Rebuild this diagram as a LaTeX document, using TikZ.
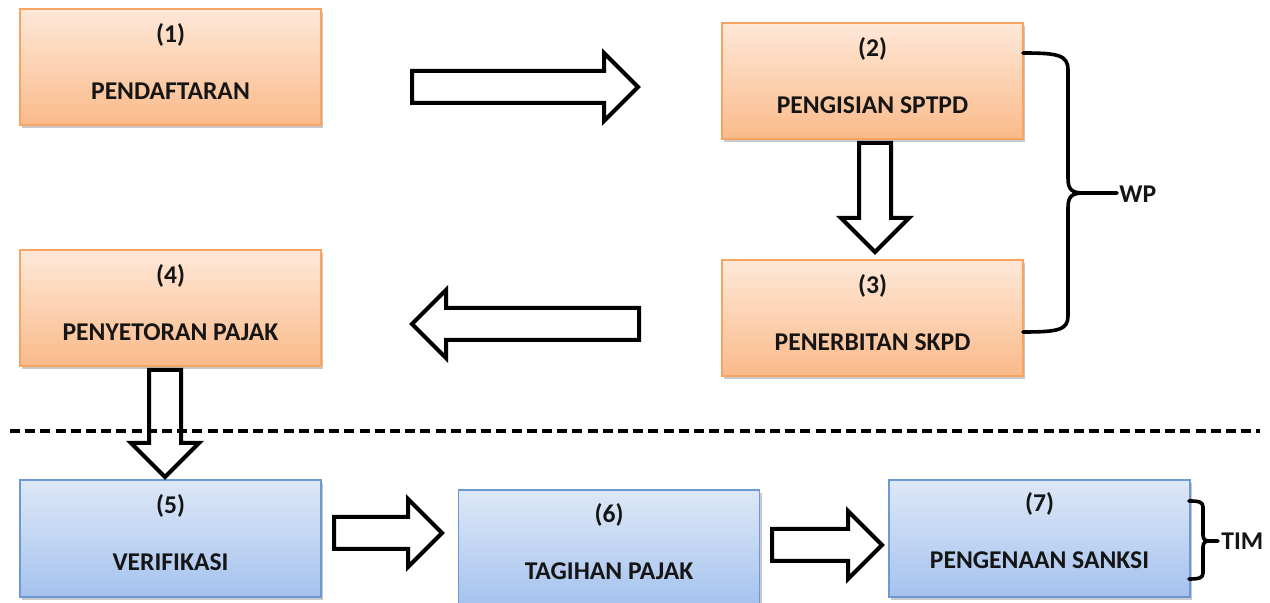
\documentclass[tikz,border=0pt]{standalone}
\usepackage{fontspec}
\setmainfont{Carlito}
\usetikzlibrary{shadows}
\definecolor{otop}{HTML}{FEE8D8}
\definecolor{obot}{HTML}{FABA8A}
\definecolor{oline}{HTML}{F7A462}
\definecolor{btop}{HTML}{DDE8F7}
\definecolor{bbot}{HTML}{A5C2EE}
\definecolor{bline}{HTML}{6E98D4}
\definecolor{txt}{HTML}{151515}
\begin{document}
\begin{tikzpicture}[x=0.5pt,y=-0.5pt,
  boxbase/.style={rectangle, minimum width=150.5pt, minimum height=58pt, inner sep=0pt, line width=0.6pt,
    drop shadow={shadow xshift=1.2pt, shadow yshift=-1.5pt, opacity=0.35, fill=black!60}},
  obox/.style={boxbase, draw=oline, top color=otop, bottom color=obot},
  bbox/.style={boxbase, draw=bline, top color=btop, bottom color=bbot},
  lbl/.style={font=\bfseries\fontsize{12.8pt}{14pt}\selectfont, text=txt, inner sep=0pt},
  barrow/.style={draw=black, fill=white, line width=2pt, line join=miter},
  brace/.style={draw=black, line width=1.8pt, line cap=round, line join=round},
  sep/.style={draw=black, line width=1.75pt, dash pattern=on 5pt off 2.6pt}
]
\useasboundingbox (0,0) rectangle (1270,603);
\fill[white] (0,0) rectangle (1270,603);

% boxes
\node[obox] (b1) at (170.5,67) {};
\node[obox] (b2) at (872.5,81) {};
\node[obox] (b3) at (872.5,318) {};
\node[obox] (b4) at (170.5,308) {};
\node[bbox, minimum height=58.5pt] (b5) at (170.5,538.5) {};
\node[bbox, minimum height=58.5pt] (b6) at (609,548.5) {};
\node[bbox, minimum height=58.5pt] (b7) at (1039.5,538.5) {};

% labels
\node[lbl] (n1) at ([yshift=-13.5pt]b1.north) {(1)};
\node[lbl] (t1) at ([yshift=-41.5pt]b1.north) {PENDAFTARAN};
\node[lbl] (n2) at ([yshift=-13.5pt]b2.north) {(2)};
\node[lbl] (t2) at ([yshift=-41.5pt]b2.north) {PENGISIAN SPTPD};
\node[lbl] (n3) at ([yshift=-13.5pt]b3.north) {(3)};
\node[lbl] (t3) at ([yshift=-41.5pt]b3.north) {PENERBITAN SKPD};
\node[lbl] (n4) at ([yshift=-13.5pt]b4.north) {(4)};
\node[lbl] (t4) at ([yshift=-41.5pt]b4.north) {PENYETORAN PAJAK};
\node[lbl] (n5) at ([yshift=-13.5pt]b5.north) {(5)};
\node[lbl] (t5) at ([yshift=-41.5pt]b5.north) {VERIFIKASI};
\node[lbl] (n6) at ([yshift=-13pt]b6.north) {(6)};
\node[lbl] (t6) at ([yshift=-41pt]b6.north) {TAGIHAN PAJAK};
\node[lbl] (n7) at ([yshift=-12.5pt]b7.north) {(7)};
\node[lbl] (t7) at ([yshift=-40.5pt]b7.north) {PENGENAAN SANKSI};

% block arrows
% 1 -> 2
\draw[barrow] (412,71) -- (604,71) -- (604,53) -- (638,87) -- (604,121) -- (604,103) -- (412,103) -- cycle;
% 2 -> 3
\draw[barrow] (859,143) -- (891,143) -- (891,218) -- (909,218) -- (875,252) -- (841,218) -- (859,218) -- cycle;
% 3 -> 4
\draw[barrow] (639,308) -- (446,308) -- (446,290) -- (412,324) -- (446,358) -- (446,340) -- (639,340) -- cycle;
% 4 -> 5
\draw[barrow] (149,370) -- (181,370) -- (181,443) -- (199,443) -- (165,477) -- (131,443) -- (149,443) -- cycle;
% 5 -> 6
\draw[barrow] (334,517) -- (408,517) -- (408,499) -- (442,533) -- (408,567) -- (408,549) -- (334,549) -- cycle;
% 6 -> 7
\draw[barrow] (772,529) -- (848,529) -- (848,511) -- (882,545) -- (848,579) -- (848,561) -- (772,561) -- cycle;

% separator
\draw[sep] (10,431) -- (1260,431);

% WP brace
\draw[brace] (1023,53) .. controls (1058,53) and (1068,55) .. (1068,70) -- (1068,178)
  .. controls (1068,190) and (1072,193) .. (1084,193) -- (1117,193);
\draw[brace] (1084,193) .. controls (1072,193) and (1068,196) .. (1068,208) -- (1068,316)
  .. controls (1068,330) and (1058,332) .. (1023,332);
\node[lbl, anchor=west] (wp) at (1119,194) {WP};

% TIM brace
\draw[brace] (1189,501) .. controls (1199,501) and (1203,502) .. (1203,507) -- (1203,535)
  .. controls (1203,539) and (1205,541) .. (1209,541) -- (1218,541);
\draw[brace] (1209,541) .. controls (1205,541) and (1203,543) .. (1203,547) -- (1203,573)
  .. controls (1203,578) and (1199,579) .. (1189,579);
\node[lbl, anchor=west] (tim) at (1221,541) {TIM};
\end{tikzpicture}
\end{document}
